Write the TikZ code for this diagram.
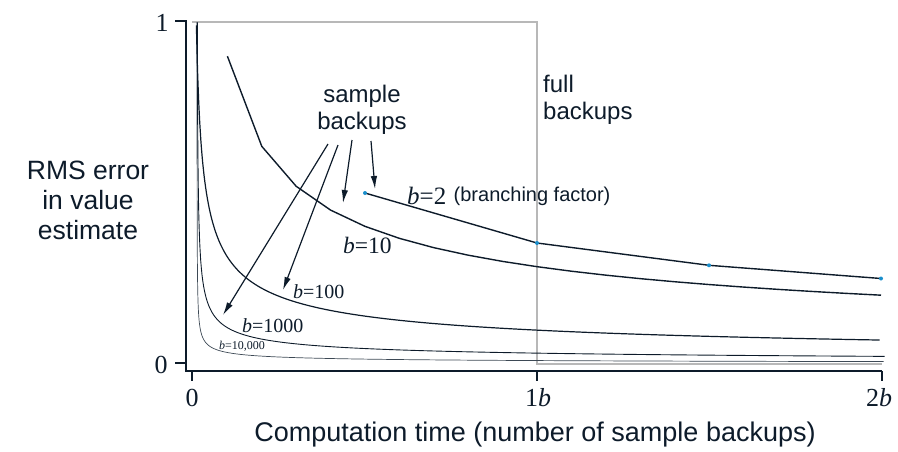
\documentclass[tikz,border=0pt]{standalone}
\usepackage{fontspec}
\setmainfont{Liberation Serif}
\setsansfont{Liberation Sans}
\usetikzlibrary{arrows.meta}

\definecolor{ink}{HTML}{0D1B2A}
\definecolor{dotblue}{HTML}{1A8FCC}
\definecolor{fullgray}{HTML}{B8B8B8}

\begin{document}
\begin{tikzpicture}[x=1pt,y=-1pt,
  axisline/.style={draw=ink, line width=2.4pt},
  tickline/.style={draw=ink, line width=2pt},
  fullcurve/.style={draw=fullgray, line width=1.2pt},
  errcurve/.style={draw=ink, line join=round},
  sans/.style={font=\sffamily\fontsize{24}{27}\selectfont, text=ink, inner sep=0pt, align=center},
  sanssmall/.style={font=\sffamily\fontsize{20}{22}\selectfont, text=ink, inner sep=0pt},
  serifnum/.style={font=\fontsize{26}{28}\selectfont, text=ink, inner sep=0pt},
  blabel/.style={text=ink, inner sep=0pt, anchor=west},
  ptr/.style={draw=ink, line width=1.2pt, -{Latex[length=13pt,width=6.5pt]}},
  sampledot/.style={circle, fill=dotblue, inner sep=0pt, minimum size=4pt}
]
\useasboundingbox (0,0) rectangle (898,451);

% full backups: error stays at 1 until time b, then drops to 0
\draw[fullcurve] (192,22) -- (537,22) -- (537,364) -- (882,364);

% sample backups: error (b-1)/(b sqrt(t)) after t samples
% b = 10000 and b = 1000 (log-spaced samples of s = t/b)
\draw[errcurve, line width=0.7pt, draw=ink!80] plot[domain=-9.2103:0.6931, samples=220, variable=\w]
  ({197+344*exp(\w)}, {364-342*0.009999*exp(-\w/2)});
\draw[errcurve, line width=0.9pt] plot[domain=-6.9078:0.6931, samples=200, variable=\w]
  ({197+344*exp(\w)}, {364-342*0.031591*exp(-\w/2)});
% b = 100
\draw[errcurve, line width=1.2pt] plot[domain=-4.6052:0.6931, samples=160, variable=\w]
  ({193+344*exp(\w)}, {364-342*0.099*exp(-\w/2)});
% b = 10, one point per sample
\draw[errcurve, line width=1.4pt] plot[domain=1:20, samples=20]
  ({193+34.4*\x}, {364-342*0.9/sqrt(\x)});
% b = 2, one point per sample
\draw[errcurve, line width=1.4pt] (365,193) -- (537,243) -- (709,265.3) -- (881,278.5);
\node[sampledot] (d1) at (365,193) {};
\node[sampledot] (d2) at (537,243) {};
\node[sampledot] (d3) at (709,265.3) {};
\node[sampledot] (d4) at (881,278.5) {};

% axes and ticks
\draw[axisline] (175,21) -- (186,21) -- (186,371) -- (882,371);
\draw[tickline] (175,363) -- (186,363);
\draw[tickline] (192,371) -- (192,381);
\draw[tickline] (537,371) -- (537,381);
\draw[tickline] (882,371) -- (882,381);

\node[serifnum] (y1) at (162,23) {1};
\node[serifnum] (y0) at (161,365) {0};
\node[serifnum] (x0) at (192,398) {0};
\node[serifnum] (x1) at (538,398) {1\textit{b}};
\node[serifnum] (x2) at (879,398) {2\textit{b}};

\node[sans, font=\sffamily\fontsize{27}{31}\selectfont] (xlab) at (535,435) {Computation time (number of sample backups)};
\node[sans, font=\sffamily\fontsize{26.5}{30}\selectfont] (ylab) at (88,200) {RMS error\\in value\\estimate};

\node[sans] (sb) at (362,110) {sample\\backups};
\node[sans, align=left, anchor=west] (fb) at (543,100) {full\\backups};

% curve labels
\node[blabel, font=\fontsize{25}{27}\selectfont] (l2) at (407,196) {\textit{b}=2};
\node[sanssmall, anchor=west] (bf) at (l2.east) [xshift=7pt] {(branching factor)};
\node[blabel, font=\fontsize{23.5}{25}\selectfont] (l10) at (343,245) {\textit{b}=10};
\node[blabel, font=\fontsize{20}{22}\selectfont] (l100) at (293,292) {\textit{b}=100};
\node[blabel, font=\fontsize{20}{22}\selectfont] (l1000) at (242,326) {\textit{b}=1000};
\node[blabel, font=\fontsize{12}{13}\selectfont] (l10k) at (219,346) {\textit{b}=10,000};

% pointers from the "sample backups" label
\coordinate (s1) at (328,144);
\coordinate (s2) at (338,145);
\coordinate (s3) at (352,140);
\coordinate (s4) at (371,141);
\coordinate (t1) at (223,315);
\coordinate (t2) at (283,290);
\coordinate (t3) at (343,203);
\coordinate (t4) at (375,189);
\draw[ptr] (s1) -- (t1);
\draw[ptr] (s2) -- (t2);
\draw[ptr] (s3) -- (t3);
\draw[ptr] (s4) -- (t4);
\end{tikzpicture}
\end{document}
